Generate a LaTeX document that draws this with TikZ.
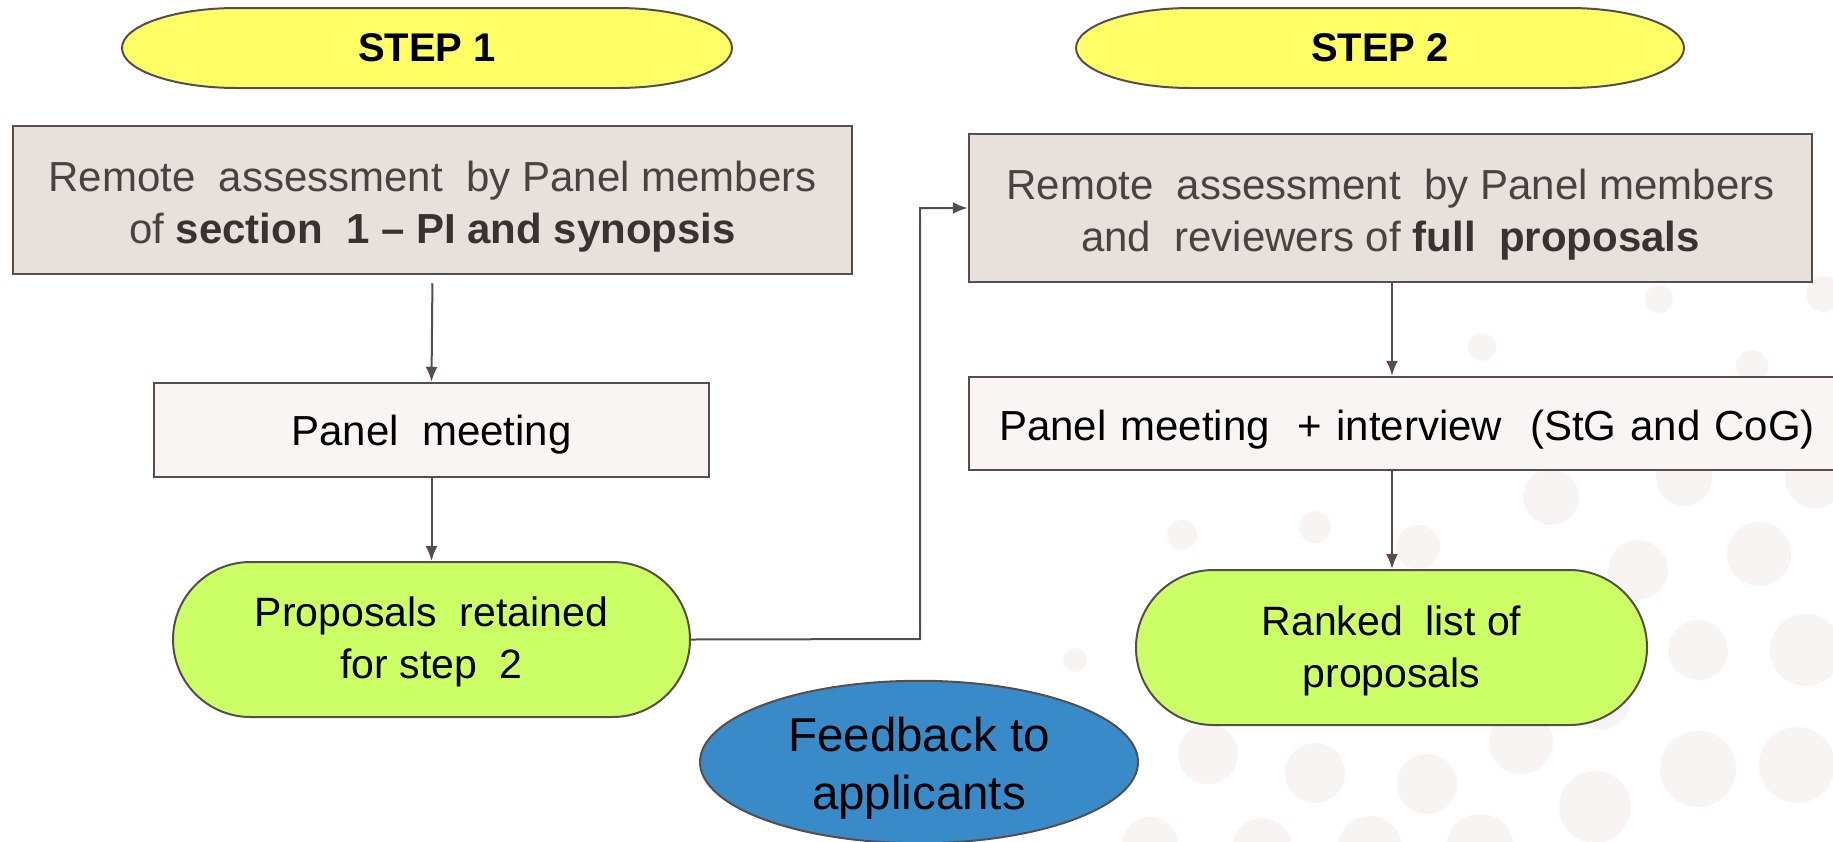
\documentclass[tikz,border=0pt]{standalone}
\usepackage{fontspec}
\setmainfont{Liberation Sans}
\usetikzlibrary{arrows.meta,shapes.misc,shapes.geometric}
\definecolor{linec}{HTML}{574E4C}
\definecolor{grayfill}{HTML}{E6E1DD}
\definecolor{lightfill}{HTML}{F8F5F4}
\definecolor{yellowfill}{HTML}{FFFF66}
\definecolor{greenfill}{HTML}{CCFF66}
\definecolor{bluefill}{HTML}{388BC8}
\definecolor{graytext}{HTML}{4A4240}
\definecolor{boldtext}{HTML}{3A3230}
\definecolor{dotc}{HTML}{F8F4F3}
\newcommand\pushdown[1]{\rule{0pt}{#1pt}}
\newcommand\stepcapsule[5]{%
  \draw[capsule] (#1-#3+#5,#2-#4) -- (#1+#3-#5,#2-#4)
    arc[start angle=-90,end angle=90,x radius=#5,y radius=#4]
    -- (#1-#3+#5,#2+#4)
    arc[start angle=90,end angle=270,x radius=#5,y radius=#4] -- cycle;}
\begin{document}
\begin{tikzpicture}[x=1pt,y=-1pt,
  capsule/.style={draw=linec,line width=2pt,fill=yellowfill},
  steptext/.style={font=\fontsize{40}{48}\selectfont\bfseries,text=black,inner sep=0pt},
  graybox/.style={draw=linec,line width=2.5pt,fill=grayfill,inner sep=0pt,align=center,
    text=graytext,font=\fontsize{42}{52}\selectfont},
  lightbox/.style={draw=linec,line width=2.5pt,fill=lightfill,inner sep=0pt,align=center,
    text=black,font=\fontsize{42}{52}\selectfont},
  greenbox/.style={rounded rectangle,draw=linec,line width=2pt,fill=greenfill,inner sep=0pt,
    align=center,text=black,font=\fontsize{41}{52}\selectfont,minimum height=155pt},
  bluebox/.style={ellipse,draw=linec,line width=2pt,fill=bluefill,inner sep=0pt,align=center,
    text=black,font=\fontsize{47.5}{58}\selectfont},
  flow/.style={draw=linec,line width=2pt,-{Latex[length=15pt,width=12pt]}}
]
\useasboundingbox (0,0) rectangle (1833,841);
% background dots
\foreach \x/\y/\r in {1659/299/14,1482/347/14,1752/366/16,1824/294/18,1551/497/28,
  1684/478/28,1815/478/30,1182/535/15,1315/527/16,1418/547/22,1638/570/30,1759/554/32,
  1698/650/30,1806/650/36,1208/754/30,1315/773/30,1427/784/30,1521/742/32,1698/769/38,
  1797/765/38,1595/807/36,1075/660/12,1150/845/28,1262/848/30,1370/848/32,1480/848/34,
  1600/700/30,1500/640/26}
  \fill[dotc] (\x,\y) circle[radius=\r];
% step headers
\stepcapsule{427}{48}{305}{40}{115}
\node[steptext] (s1) at (427,48) {STEP 1};
\stepcapsule{1380}{48}{304}{40}{115}
\node[steptext] (s2) at (1380,48) {STEP 2};
% step 1
\node[graybox,minimum width=839pt,minimum height=148pt] (a) at (432.5,200)
  {\pushdown{43}Remote\ \ assessment\ \ by Panel\ members\\
   of \textcolor{boldtext}{\bfseries section\ \ 1 -- PI and synopsis}};
\node[lightbox,minimum width=555pt,minimum height=94pt] (b) at (431.5,430)
  {\pushdown{40}Panel\ \ meeting};
\node[greenbox,minimum width=517pt] (c) at (431.5,639.5)
  {\pushdown{35}Proposals\ \ retained\\for step\ \ 2};
% step 2
\node[graybox,minimum width=843pt,minimum height=148pt] (d) at (1390.5,208)
  {\pushdown{43}Remote\ \ assessment\ \ by Panel\ members\\
   and\ \ reviewers of \textcolor{boldtext}{\bfseries full\ \ proposals}};
\node[lightbox,minimum width=876pt,minimum height=93pt,text width=876pt] (e) at (1407,423.5)
  {\pushdown{43}Panel meeting\ \ + interview\ \ (StG and CoG)};
\node[greenbox,minimum width=511pt] (f) at (1391.5,647.5)
  {\pushdown{37}Ranked\ \ list of\\proposals};
\node[bluebox,minimum width=438pt,minimum height=155pt] (g) at (919,762)
  {\pushdown{47}Feedback to\\applicants};
% connectors
\coordinate (k) at (920,639);
\draw[flow,shorten <=8pt] (a.south) -- (b.north);
\draw[flow] (b.south) -- (c.north);
\draw[flow] (c.east) -- (k) |- (d.west);
\draw[flow] (d.south -| 1392,0) -- (e.north -| 1392,0);
\draw[flow] (e.south -| 1392,0) -- (f.north -| 1392,0);
\end{tikzpicture}
\end{document}
